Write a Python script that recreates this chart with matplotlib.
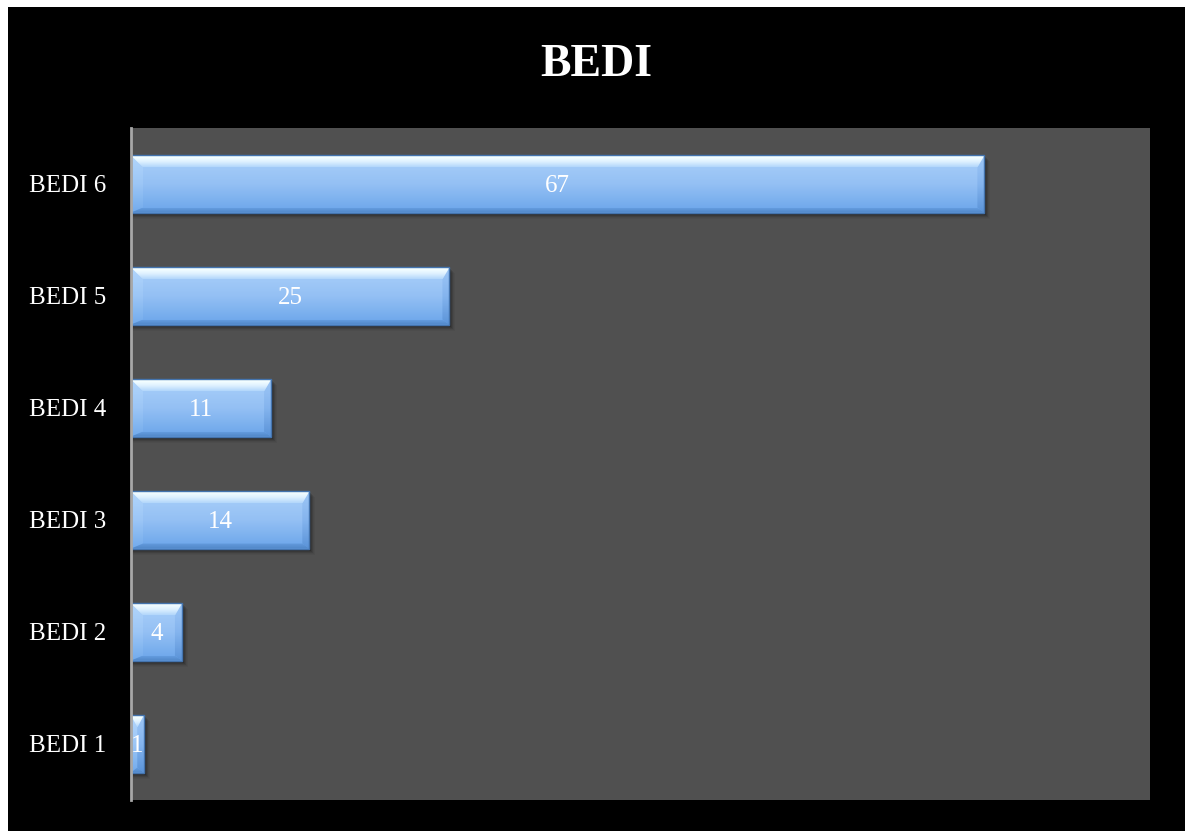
import numpy as np
import matplotlib
matplotlib.use("Agg")
import matplotlib.pyplot as plt
from matplotlib.patches import Rectangle, Polygon
from matplotlib.colors import to_rgb

categories = ["BEDI 1", "BEDI 2", "BEDI 3", "BEDI 4", "BEDI 5", "BEDI 6"]
values = [1, 4, 14, 11, 25, 67]
title = "BEDI"

plt.rcParams['font.family'] = ['Liberation Serif', 'DejaVu Serif']

W, H = 1185, 831
fig = plt.figure(figsize=(W / 100, H / 100), dpi=100, facecolor="white")
fig.patches.append(Rectangle((8 / W, 0), 1 - 8 / W, 1 - 7 / H, transform=fig.transFigure,
                             facecolor="black", edgecolor="none", zorder=-10))

ax = fig.add_axes([131 / W, (H - 800) / H, (1150 - 131) / W, 672 / H])
ax.set_facecolor("#505050")
XMAX = 80

# pixel -> data scale
px_x = XMAX / (1150 - 131)
px_y = len(categories) / 672.0

bar_h = 0.51


def grad_fill(ax, poly, stops, y0, y1, x0, x1, z):
    """stops: list of (t, color) with t=0 at top, 1 at bottom."""
    ax.add_patch(poly)
    poly.set_facecolor("none")
    poly.set_edgecolor("none")
    n = 96
    t = np.linspace(0, 1, n)
    ts = [s[0] for s in stops]
    cols = np.array([to_rgb(s[1]) for s in stops])
    img = np.stack([np.interp(t, ts, cols[:, c]) for c in range(3)], axis=1)[:, None, :]
    im = ax.imshow(img, extent=[x0, x1, y0, y1], origin="upper", aspect="auto",
                   interpolation="bilinear", zorder=z)
    im.set_clip_path(poly)


bars = ax.barh(range(len(categories)), values, height=bar_h, color="none", zorder=3)

for i, (rect, v) in enumerate(zip(bars, values)):
    y0 = rect.get_y()
    y1 = y0 + rect.get_height()
    x0 = 0
    x1 = rect.get_width()
    # soft shadow
    for k, al in zip(range(1, 7), [0.2, 0.16, 0.12, 0.09, 0.06, 0.04]):
        ax.add_patch(Rectangle((x0 + 2 * px_x, y0 - k * px_y), x1 - x0 + (k - 2) * px_x,
                               (y1 - y0), facecolor="black", alpha=al, edgecolor="none", zorder=2))
    half = (x1 - x0) / 2.0
    bxl = min(12 * px_x, half)
    bxr = min(7 * px_x, half)
    byt = 12 * px_y
    byb = 5 * px_y
    # body
    body = Polygon([(x0, y0), (x1, y0), (x1, y1), (x0, y1)], closed=True)
    grad_fill(ax, body, [(0, "#aad0fa"), (0.5, "#94c0f4"), (1, "#6aa5ea")], y0, y1, x0, x1, 3)
    # left bevel
    left = Polygon([(x0, y1), (x0 + bxl, y1 - byt), (x0 + bxl, y0 + byb), (x0, y0)], closed=True)
    grad_fill(ax, left, [(0, "#b2d6fc"), (0.5, "#9cc6f6"), (1, "#72abec")], y0, y1, x0, x1, 4)
    # right bevel
    right = Polygon([(x1, y1), (x1 - bxr, y1 - byt), (x1 - bxr, y0 + byb), (x1, y0)], closed=True)
    grad_fill(ax, right, [(0, "#9ec7f6"), (0.5, "#84b4ee"), (1, "#5a93d8")], y0, y1, x0, x1, 4)
    # bottom bevel
    bot = Polygon([(x0, y0), (x1, y0), (x1 - bxr, y0 + byb), (x0 + bxl, y0 + byb)], closed=True)
    grad_fill(ax, bot, [(0, "#649cdf"), (1, "#5086c6")], y0, y0 + byb, x0, x1, 5)
    # top bevel
    top = Polygon([(x0, y1), (x1, y1), (x1 - bxr, y1 - byt), (x0 + bxl, y1 - byt)], closed=True)
    grad_fill(ax, top, [(0, "#e6f7ff"), (0.15, "#f6ffff"), (0.55, "#def1ff"), (1, "#b2d6fb")],
              y1 - byt, y1, x0, x1, 5)
    # outline
    ax.add_patch(Rectangle((x0, y0), x1 - x0, y1 - y0, facecolor="none",
                           edgecolor="#4474ae", linewidth=1.0, zorder=6))
    ax.text((x0 + x1) / 2.0, (y0 + y1) / 2.0 - 2 * px_y, str(v), color="white", fontsize=18,
            ha="center", va="center", zorder=7)

ax.set_xlim(0, XMAX)
ax.set_ylim(-0.5, len(categories) - 0.5)
ax.set_yticks(range(len(categories)))
ax.set_yticklabels(categories, color="white", fontsize=18)
ax.tick_params(axis="y", length=0, pad=18)
ax.set_xticks([])
for s in ["top", "right", "bottom"]:
    ax.spines[s].set_visible(False)
ax.spines["left"].set_color("#a8a8a8")
ax.spines["left"].set_linewidth(2)
ax.spines["left"].set_zorder(8)

fig.text(596.5 / W, 1 - 65 / H, title, color="white", fontsize=33, fontweight="bold",
         ha="center", va="center")

fig.savefig("out.png", dpi=100, facecolor=fig.get_facecolor())
